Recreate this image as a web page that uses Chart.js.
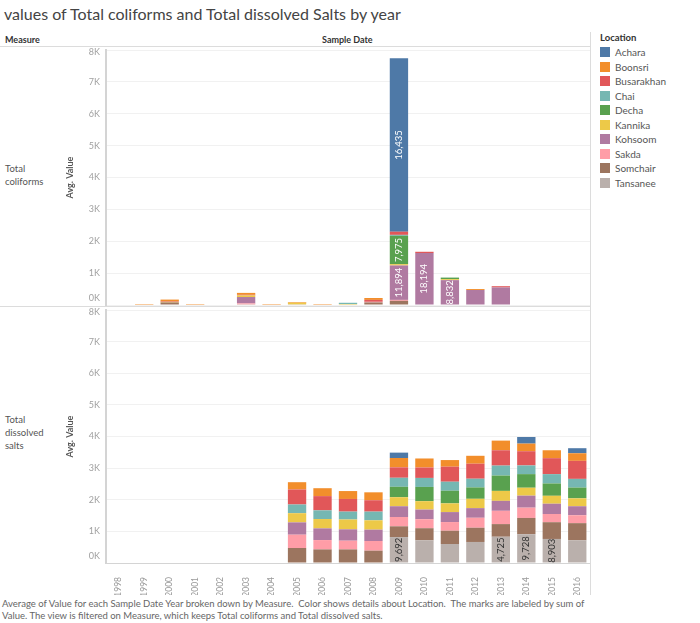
<!DOCTYPE html>
<html>
<head>
<meta charset="utf-8">
<script src="https://cdn.jsdelivr.net/npm/chart.js@4.4.1/dist/chart.umd.min.js"></script>
<style>
body { margin:0; width:700px; height:623px; position:relative; background:#fff; font-family:Lato, sans-serif; overflow:hidden; }
.abs { position:absolute; white-space:nowrap; }
#title { left:4px; top:4px; font-size:16px; color:#444; }
.hdr { font-size:9px; font-weight:bold; color:#333; }
.rowlbl { font-size:9.5px; color:#555; line-height:13px; }
.line { position:absolute; background:#dcdcdc; }
#legend { left:600px; top:32px; font-size:10px; color:#555; }
#legend .ttl { font-weight:bold; color:#333; font-size:9.5px; height:13px; }
#legend .it { height:14.5px; display:flex; align-items:center; }
#legend .sw { width:10px; height:10px; margin-right:5px; }
#caption { left:2px; top:598px; font-size:9.5px; color:#666; line-height:12px; }
</style>
</head>
<body>
<div id="title" class="abs">values of Total coliforms and Total dissolved Salts by year</div>
<div class="abs hdr" style="left:5px; top:34px;">Measure</div>
<div class="abs hdr" style="left:322px; top:34px;">Sample Date</div>
<div class="line" style="left:0; top:46px; width:590px; height:1px;"></div>
<div class="line" style="left:0; top:306px; width:590px; height:1px;"></div>
<div class="line" style="left:590px; top:32px; width:1px; height:563px;"></div>
<div class="abs rowlbl" style="left:5px; top:162px;">Total<br>coliforms</div>
<div class="abs rowlbl" style="left:5px; top:413px;">Total<br>dissolved<br>salts</div>
<div id="legend" class="abs"></div>
<div id="caption" class="abs">Average of Value for each Sample Date Year broken down by Measure.&nbsp; Color shows details about Location.&nbsp; The marks are labeled by sum of<br>Value. The view is filtered on Measure, which keeps Total coliforms and Total dissolved salts.</div>

<div class="abs" style="left:60px; top:46px; width:530px; height:260px;"><canvas id="top"></canvas></div>
<div class="abs" style="left:60px; top:306px; width:530px; height:289px;"><canvas id="bottom"></canvas></div>

<script>
// DATA
const years = ['1998','1999','2000','2001','2002','2003','2004','2005','2006','2007','2008','2009','2010','2011','2012','2013','2014','2015','2016'];
const locations = ['Achara','Boonsri','Busarakhan','Chai','Decha','Kannika','Kohsoom','Sakda','Somchair','Tansanee'];
const colors = ['#4e79a7','#f28e2b','#e15759','#76b7b2','#59a14f','#edc948','#b07aa1','#ff9da7','#9c755f','#bab0ac'];
const n = null;

// avg. value of Total coliforms, one row per location
const coliforms = [
  [n,n,n,n,n,n,n,n,n,n,n,5440,n,n,n,n,n,n,n],
  [n,30,50,30,n,60,30,20,30,n,60,n,n,n,30,n,n,n,n],
  [n,n,20,n,n,20,n,n,n,n,60,100,40,n,n,40,n,n,n],
  [n,n,n,n,n,n,n,n,n,40,n,30,n,n,n,n,n,n,n],
  [n,n,n,n,n,n,n,n,n,n,n,890,n,50,n,n,n,n,n],
  [n,n,20,n,n,50,n,50,n,30,n,40,n,30,n,n,n,n,n],
  [n,n,n,n,n,200,n,n,n,n,n,1080,1630,780,470,550,n,n,n],
  [n,n,n,n,n,30,n,n,n,n,20,30,n,n,n,n,n,n,n],
  [n,n,80,n,n,20,n,20,n,n,80,130,n,n,n,n,n,n,n],
  [n,n,n,n,n,n,n,n,n,n,n,n,n,n,n,n,n,n,n]
];

// avg. value of Total dissolved salts
const salts = [
  [n,n,n,n,n,n,n,n,n,n,n,170,n,n,n,n,210,n,160],
  [n,n,n,n,n,n,n,230,250,250,250,295,285,210,250,305,240,250,240],
  [n,n,n,n,n,n,n,475,450,400,360,330,330,475,475,485,450,505,570],
  [n,n,n,n,n,n,n,275,275,250,275,285,285,285,275,315,275,295,275],
  [n,n,n,n,n,n,n,n,n,n,n,330,450,400,360,485,430,390,340],
  [n,n,n,n,n,n,n,290,295,310,295,285,265,275,295,315,250,250,250],
  [n,n,n,n,n,n,n,390,370,360,360,340,305,315,305,315,380,325,285],
  [n,n,n,n,n,n,n,420,295,275,305,295,285,275,315,420,325,260,250],
  [n,n,n,n,n,n,n,475,430,430,390,340,380,420,450,400,515,530,540],
  [n,n,n,n,n,n,n,n,n,n,n,820,720,600,665,830,910,760,720]
];

// mark labels (sum of value)
const coliformSums = [['Achara','2009',16435],['Decha','2009',7975],['Kohsoom','2009',11894],['Kohsoom','2010',18194],['Kohsoom','2011',8832]];
const saltSums = [['Tansanee','2009',9692],['Tansanee','2013',4725],['Tansanee','2014',9728],['Tansanee','2015',8903]];

const yTickValues = [0,1000,2000,3000,4000,5000,6000,7000,8000];
const yTickLabels = ['0K','1K','2K','3K','4K','5K','6K','7K','8K'];

// LEGEND
const legend = document.getElementById('legend');
legend.innerHTML = '<div class="ttl">Location</div>' + locations.map((l, i) =>
  `<div class="it"><div class="sw" style="background:${colors[i]}"></div>${l}</div>`).join('');

// stacking: Tansanee at the bottom, Achara on top
const stackOrder = locations.map((_, i) => locations.length - 1 - i);

function makePanel(id, values, sums, showX, sumColor) {
  const datasets = stackOrder.map(i => ({
    label: locations[i],
    data: values[i],
    backgroundColor: colors[i],
    borderWidth: 0,
    categoryPercentage: 1,
    barPercentage: 0.72
  }));

  const labelPlugin = {
    id: 'labels' + id,
    afterDatasetsDraw(chart) {
      const ctx = chart.ctx;
      ctx.save();
      ctx.font = '9.5px Lato';
      ctx.fillStyle = sumColor;
      ctx.textAlign = 'center';
      ctx.textBaseline = 'middle';
      sums.forEach(([loc, yr, v]) => {
        const di = stackOrder.indexOf(locations.indexOf(loc));
        const bar = chart.getDatasetMeta(di).data[years.indexOf(yr)];
        ctx.save();
        ctx.translate(bar.x, (bar.y + bar.base) / 2);
        ctx.rotate(-Math.PI / 2);
        ctx.fillText(v.toLocaleString('en-US'), 0, 0);
        ctx.restore();
      });
      // y tick labels, kept inside the pane like Tableau does
      const s = chart.scales.y;
      ctx.font = '9px Lato';
      ctx.fillStyle = '#a0a0a0';
      ctx.textAlign = 'right';
      yTickValues.forEach((v, i) => {
        let y = s.getPixelForValue(v);
        y = Math.min(Math.max(y, s.top + 2), s.bottom - 7);
        ctx.fillText(yTickLabels[i], s.right - 6, y);
      });
      ctx.restore();
    }
  };

  return new Chart(document.getElementById(id), {
    type: 'bar',
    data: { labels: years, datasets },
    plugins: [labelPlugin],
    options: {
      responsive: true,
      maintainAspectRatio: false,
      animation: false,
      layout: { padding: { top: 4, bottom: showX ? 0 : 1, left: 0, right: 0 } },
      plugins: { legend: { display: false }, tooltip: { enabled: false } },
      scales: {
        x: {
          stacked: true,
          display: showX,
          grid: { display: false },
          border: { color: '#d4d4d4' },
          ticks: { autoSkip: false, minRotation: 90, maxRotation: 90, padding: 6, color: '#999', font: { family: 'Lato', size: 8.5 } },
          afterFit: s => { if (showX) { s.height = 32; } else { s.height = 0; } s.paddingLeft = 0; s.paddingRight = 0; }
        },
        y: {
          stacked: true,
          min: 0,
          max: 8000,
          ticks: { display: false, stepSize: 1000 },
          grid: { color: '#f1f1f1', drawTicks: false },
          border: { color: '#d4d4d4', width: 2 },
          title: { display: true, text: 'Avg. Value', color: '#555', font: { family: 'Lato', size: 9, weight: 'bold' }, padding: { top: 5, bottom: 0 } },
          afterFit: s => { s.width = 46; }
        }
      }
    }
  });
}

makePanel('top', coliforms, coliformSums, false, '#fff');
makePanel('bottom', salts, saltSums, true, '#333');
</script>
</body>
</html>
